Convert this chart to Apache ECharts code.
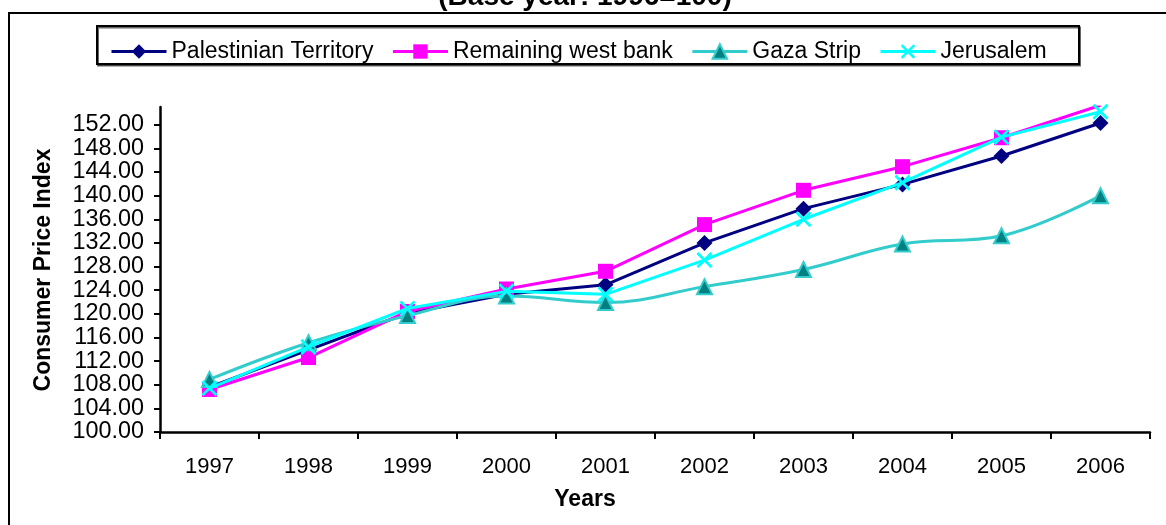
<!DOCTYPE html>
<html>
<head>
<meta charset="utf-8">
<script src="https://cdn.jsdelivr.net/npm/echarts@6/dist/echarts.min.js"></script>
<style>
html,body{margin:0;padding:0;background:#fff;}
#c{width:1166px;height:525px;}
</style>
</head>
<body>
<div id="c"></div>
<script>
var years = ['1997','1998','1999','2000','2001','2002','2003','2004','2005','2006'];
var palestinianTerritory = [107.6, 113.9, 120.1, 123.3, 124.9, 132.0, 137.8, 141.9, 146.7, 152.3];
var remainingWestBank = [107.2, 112.6, 120.4, 124.2, 127.2, 135.1, 140.9, 144.9, 149.8, 155.3];
var gazaStrip = [108.9, 115.1, 119.7, 123.0, 121.9, 124.6, 127.5, 131.8, 133.2, 140.0];
var jerusalem = [107.4, 114.4, 120.9, 123.8, 123.3, 129.1, 136.0, 142.2, 149.9, 154.2];
var yTicks = [100,104,108,112,116,120,124,128,132,136,140,144,148,152];

var FONT = "'Liberation Sans', Arial, sans-serif";
var xSymbol = 'path://M0,1.2L1.2,0L5,3.8L8.8,0L10,1.2L6.2,5L10,8.8L8.8,10L5,6.2L1.2,10L0,8.8L3.8,5Z';

var chart = echarts.init(document.getElementById('c'));
chart.setOption({
  animation: false,
  backgroundColor: '#ffffff',
  textStyle: {fontFamily: FONT},
  graphic: [
    {type: 'rect', shape: {x: 9, y: 13, width: 1200, height: 600}, style: {fill: 'none', stroke: '#000', lineWidth: 2}, z: 0},
    {type: 'rect', shape: {x: 97, y: 26, width: 982, height: 38}, style: {fill: '#fff', stroke: '#000', lineWidth: 2, shadowColor: 'rgba(0,0,0,0.6)', shadowOffsetY: 1.5, shadowOffsetX: 1}, z: 1},
    {type: 'text', x: 585, y: -3, style: {text: '(Base year: 1996=100)', font: "bold 28px " + FONT, fill: '#000', align: 'center', verticalAlign: 'middle'}},
    {type: 'text', x: 44, y: 270, rotation: Math.PI / 2, style: {text: 'Consumer Price Index', font: "bold 23px " + FONT, fill: '#000', align: 'center', verticalAlign: 'middle'}},
    {type: 'text', x: 585, y: 500, style: {text: 'Years', font: "bold 23px " + FONT, fill: '#000', align: 'center', verticalAlign: 'middle'}}
  ],
  legend: {
    left: 105, top: 35, itemWidth: 55, itemHeight: 18, itemGap: 18, z: 5,
    textStyle: {fontSize: 23, color: '#000', fontFamily: FONT},
    lineStyle: {width: 3},
    data: ['Palestinian Territory', 'Remaining west bank', 'Gaza Strip', 'Jerusalem']
  },
  grid: {left: 160, right: 16, top: 107, bottom: 93, containLabel: false},
  xAxis: {
    type: 'category', data: years, boundaryGap: true,
    axisLine: {lineStyle: {color: '#000', width: 2.5}},
    axisTick: {show: true, length: 7, lineStyle: {color: '#000', width: 2}},
    axisLabel: {color: '#000', fontSize: 22, margin: 24, fontFamily: FONT},
    splitLine: {show: false}
  },
  yAxis: {
    type: 'value', min: 100, max: 155, interval: 4,
    axisLine: {show: true, lineStyle: {color: '#000', width: 2.5}},
    axisTick: {show: true, length: 6, lineStyle: {color: '#000', width: 2}, customValues: yTicks},
    axisLabel: {color: '#000', fontSize: 23.4, margin: 16, fontFamily: FONT, customValues: yTicks,
      formatter: function (v) { return v.toFixed(2); }},
    splitLine: {show: false}
  },
  series: [
    {name: 'Palestinian Territory', type: 'line', data: palestinianTerritory, symbol: 'diamond', symbolSize: 16,
     lineStyle: {color: '#000080', width: 3}, itemStyle: {color: '#000080'}, z: 2},
    {name: 'Remaining west bank', type: 'line', data: remainingWestBank, symbol: 'rect', symbolSize: 15,
     lineStyle: {color: '#FF00FF', width: 3}, itemStyle: {color: '#FF00FF'}, z: 3},
    {name: 'Gaza Strip', type: 'line', data: gazaStrip, symbol: 'triangle', symbolSize: 15, smooth: 0.4,
     lineStyle: {color: '#33CCCC', width: 3}, itemStyle: {color: '#008080', borderColor: '#33CCCC', borderWidth: 2}, z: 4},
    {name: 'Jerusalem', type: 'line', data: jerusalem, symbol: xSymbol, symbolSize: 16,
     lineStyle: {color: '#00FFFF', width: 3}, itemStyle: {color: '#00FFFF'}, z: 5}
  ]
});
</script>
</body>
</html>
